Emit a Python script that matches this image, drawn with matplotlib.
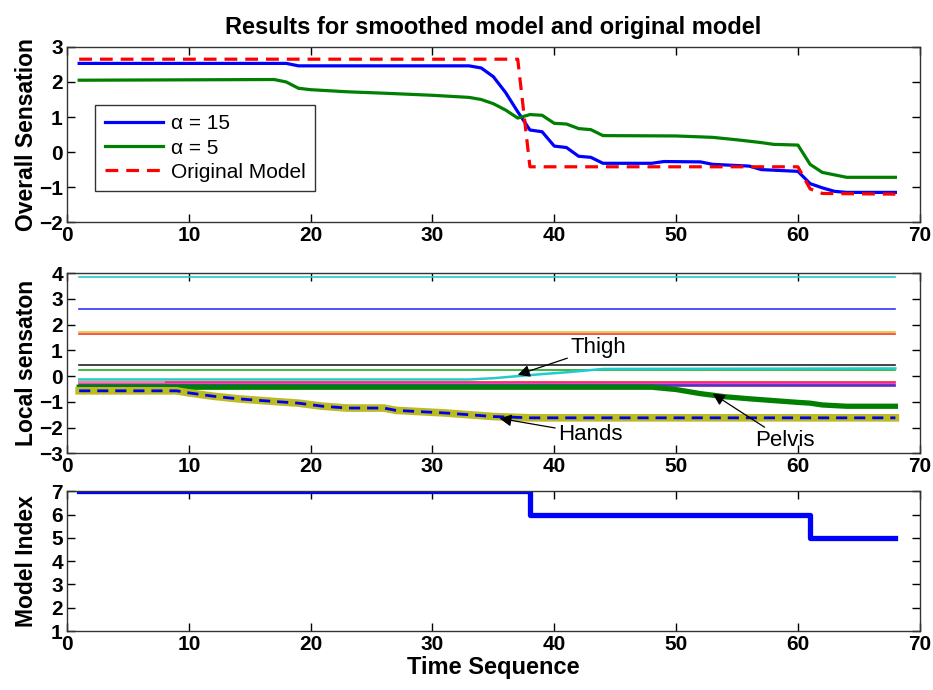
import matplotlib
matplotlib.use("Agg")
import matplotlib.pyplot as plt
import numpy as np

plt.rcParams['font.family'] = ['Liberation Sans', 'DejaVu Sans']

####################################
#######  DADOS
####################################

# painel 1 - sensacao global
t_a15 = [1, 18, 19, 33, 34, 35, 36, 37, 38, 39, 40, 41, 42, 43, 44, 48, 49, 52, 53, 56, 57, 60, 61, 62, 63, 64, 68]
y_a15 = [2.53, 2.53, 2.46, 2.46, 2.4, 2.15, 1.7, 1.15, 0.63, 0.58, 0.17, 0.13, -0.12, -0.15, -0.32,
         -0.32, -0.27, -0.28, -0.35, -0.4, -0.5, -0.55, -0.9, -1.02, -1.12, -1.15, -1.15]

t_a5 = [1, 17, 18, 19, 20, 23, 26, 30, 33, 34, 35, 36, 37, 38, 39, 40, 41, 42, 43, 44, 50, 53,
        55, 57, 58, 60, 61, 62, 63, 64, 68]
y_a5 = [2.05, 2.07, 2.0, 1.82, 1.78, 1.72, 1.68, 1.62, 1.56, 1.5, 1.38, 1.2, 0.97, 1.07, 1.05, 0.82,
        0.8, 0.67, 0.64, 0.47, 0.46, 0.42, 0.35, 0.27, 0.22, 0.2, -0.35, -0.58, -0.65, -0.72, -0.72]

t_orig = [1, 37, 38, 60, 61, 62, 68]
y_orig = [2.65, 2.65, -0.42, -0.42, -1.05, -1.18, -1.2]

# painel 2 - sensacao local
t_span = [1, 68]
flat_levels = [3.85, 2.6, 1.72, 1.64, 0.42, 0.22, -0.22, -0.28, -0.35, -0.4]
flat_colors = ['#22cccc', '#3333ff', '#cccc33', '#ff3333', '#222222', '#22aa22',
               '#ff2222', '#ee22aa', '#2222cc', '#7722aa']

t_pink = [1, 8]
y_pink = [-0.22, -0.22]

t_thigh = [1, 33, 35, 37, 39, 41, 44, 68]
y_thigh = [-0.13, -0.13, -0.08, 0.0, 0.08, 0.15, 0.28, 0.3]

t_pelvis = [1, 48, 50, 52, 54, 56, 58, 60, 61, 62, 64, 68]
y_pelvis = [-0.43, -0.43, -0.52, -0.68, -0.8, -0.88, -0.95, -1.02, -1.05, -1.12, -1.17, -1.17]

t_hands = [1, 9, 10, 12, 14, 16, 19, 21, 23, 26, 27, 29, 31, 33, 35, 38, 68]
y_hands = [-0.57, -0.57, -0.65, -0.78, -0.88, -0.95, -1.05, -1.17, -1.24, -1.24, -1.33, -1.38,
           -1.43, -1.5, -1.57, -1.62, -1.62]

# painel 3 - indice do modelo
t_model = [1, 38, 61, 68]
model_idx = [7, 6, 5, 5]

####################################
#######  FIGURA
####################################

fig = plt.figure(figsize=(9.33, 6.9), dpi=100)
L, W = 0.0718, 0.914
ax1 = fig.add_axes([L, 0.678, W, 0.254])
ax2 = fig.add_axes([L, 0.343, W, 0.261])
ax3 = fig.add_axes([L, 0.0855, W, 0.2025])

def estilo(ax, ylo, yhi, ylabel):
    ax.set_xlim(0, 70)
    ax.set_ylim(ylo, yhi)
    ax.set_xticks(range(0, 71, 10))
    ax.set_yticks(range(ylo, yhi + 1))
    ax.tick_params(direction='in', top=True, right=True, length=6, width=1,
                   labelsize=15, pad=3)
    for lb in ax.get_xticklabels() + ax.get_yticklabels():
        lb.set_fontweight('bold')
    for s in ax.spines.values():
        s.set_color('#333333')
        s.set_linewidth(1)
    ax.set_ylabel(ylabel, fontsize=16.5, fontweight='bold')
    ax.yaxis.set_label_coords(-0.034, 0.5)

# painel 1
ax1.plot(t_a15, y_a15, color='#0000ff', lw=2.3, label='α = 15')
ax1.plot(t_a5, y_a5, color='#007f00', lw=2.3, label='α = 5')
ax1.plot(t_orig, y_orig, color='#ff0000', lw=2.3, ls=(0, (4, 2.5)), label='Original Model')
estilo(ax1, -2, 3, 'Overall Sensation')
ax1.set_title('Results for smoothed model and original model', fontsize=17,
              fontweight='bold', pad=9)
leg = ax1.legend(loc='upper left', bbox_to_anchor=(0.033, 0.669), borderaxespad=0,
                 fancybox=False, edgecolor='black', fontsize=15, handlelength=2.8,
                 labelspacing=0.25, borderpad=0.45, handletextpad=0.4)
leg.get_frame().set_linewidth(1)

# painel 2
for lv, c in zip(flat_levels, flat_colors):
    ax2.plot(t_span, [lv, lv], color=c, lw=1.2)
ax2.plot(t_pink, y_pink, color='#ee9999', lw=1.2)
ax2.plot(t_thigh, y_thigh, color='#22cccc', lw=1.8)
ax2.plot(t_pelvis, y_pelvis, color='#007f00', lw=3.8)
ax2.plot(t_hands, y_hands, color='#bbbb22', lw=5.5)
ax2.plot(t_hands, y_hands, color='#0000ee', lw=2, ls=(0, (4, 2.5)))
estilo(ax2, -3, 4, 'Local sensaton')

arr = dict(arrowstyle='-|>', color='black', lw=0.9, mutation_scale=18, shrinkA=0, shrinkB=0)
ax2.annotate('Thigh', xy=(37.0, 0.05), xytext=(41.3, 1.1), fontsize=16, va='center',
             arrowprops=arr)
ax2.annotate('Hands', xy=(35.5, -1.64), xytext=(40.3, -2.25), fontsize=16, va='center',
             arrowprops=arr)
ax2.annotate('Pelvis', xy=(53.0, -0.68), xytext=(56.5, -2.5), fontsize=16, va='center',
             arrowprops=arr)

# painel 3
ax3.plot(t_model, model_idx, color='#0000ff', lw=3.8, drawstyle='steps-post')
estilo(ax3, 1, 7, 'Model Index')
ax3.set_xlabel('Time Sequence', fontsize=17, fontweight='bold', labelpad=1)

fig.savefig('out.png', dpi=100)
